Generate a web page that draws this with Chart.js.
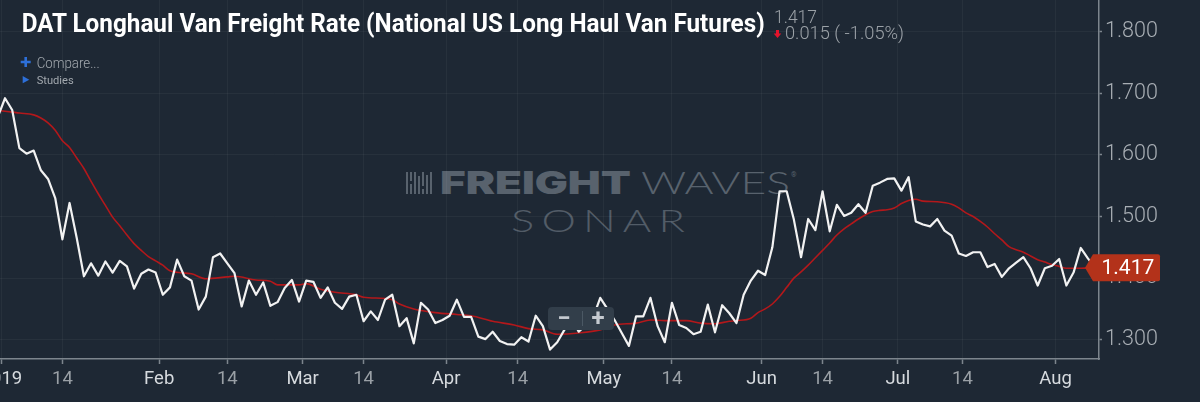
<!DOCTYPE html>
<html>
<head>
<meta charset="utf-8">
<title>DAT Longhaul Van Freight Rate</title>
<script src="https://cdn.jsdelivr.net/npm/chart.js@4.4.1/dist/chart.umd.min.js"></script>
<style>
  html, body { margin: 0; padding: 0; background: #1e2834; }
  #wrap { position: relative; width: 1200px; height: 402px; overflow: hidden; background: #1e2834; }
  #wrap svg, #wrap canvas { position: absolute; left: 0; top: 0; }
  svg text { font-family: Roboto, "Noto Sans", sans-serif; }
</style>
</head>
<body>
<div id="wrap">
  <!-- watermark sits under the lines -->
  <svg id="under" width="1200" height="402">
    <g fill="#58626d">
      <rect x="406" y="172" width="2" height="22"/>
      <rect x="410" y="172" width="2" height="9"/>
      <rect x="410" y="184" width="2" height="10"/>
      <rect x="414" y="172" width="2" height="22"/>
      <rect x="418" y="176" width="2" height="18"/>
      <rect x="422" y="172" width="2" height="14"/>
      <rect x="422" y="189" width="2" height="5"/>
      <rect x="426" y="175" width="2" height="19"/>
      <rect x="430" y="172" width="2" height="22"/>
      <text x="440" y="194.3" font-size="31" font-weight="900" style="font-family: Inter, 'DejaVu Sans', sans-serif" textLength="191" lengthAdjust="spacingAndGlyphs">FREIGHT</text>
      <text x="641" y="194.3" font-size="31" font-weight="300" style="font-family: Lato, Inter, sans-serif" textLength="149" lengthAdjust="spacingAndGlyphs">WAVES</text>
      <text x="791" y="177" font-size="7">®</text>
      <text x="511" y="231.7" font-size="30.5" font-weight="300" style="font-family: Lato, Inter, sans-serif; letter-spacing: 5px" fill="#525c67" textLength="181" lengthAdjust="spacingAndGlyphs">SONAR</text>
    </g>
  </svg>
  <canvas id="rateChart" width="1200" height="402"></canvas>
  <svg id="over" width="1200" height="402">
    <text x="21.7" y="31.7" font-size="25" font-weight="700" fill="#ffffff" textLength="743" lengthAdjust="spacingAndGlyphs">DAT Longhaul Van Freight Rate (National US Long Haul Van Futures)</text>
    <text id="lastQuote" x="774" y="22.7" font-size="18.8" font-weight="300" fill="#9ba1a7" textLength="43" lengthAdjust="spacingAndGlyphs"></text>
    <polygon points="776,30 779,30 779,33.5 781.3,33.5 777.5,38 773.7,33.5 776,33.5" fill="#e3132b"/>
    <text id="change" x="785" y="39.3" font-size="18" font-weight="300" fill="#9ba1a7" textLength="119" lengthAdjust="spacingAndGlyphs"></text>
    <path d="M20.7 62h10M25.7 57v10" stroke="#2d6fd8" stroke-width="2.6"/>
    <text x="36.7" y="68.3" font-size="14" font-weight="300" fill="#a3a9af" textLength="63" lengthAdjust="spacingAndGlyphs">Compare...</text>
    <polygon points="22.7,76 29.3,79.7 22.7,83.3" fill="#2d6fd8"/>
    <text x="36.7" y="84" font-size="11.3" fill="#a3a9af" textLength="37" lengthAdjust="spacingAndGlyphs">Studies</text>
    <rect x="548" y="307" width="66" height="23" rx="4" fill="#323e4a"/>
    <line x1="582.5" y1="311" x2="582.5" y2="326" stroke="#4b5864"/>
    <text x="564" y="326.3" text-anchor="middle" font-size="24" font-weight="700" fill="#c5cad0">−</text>
    <text x="598" y="326.3" text-anchor="middle" font-size="24" font-weight="700" fill="#c5cad0">+</text>
  </svg>
</div>
<script>
// daily settles; day 0 is the first bar at the left edge
const firstDay = -1;
const rateValues = [
  1.662, 1.692, 1.673, 1.611, 1.602, 1.607, 1.575, 1.561, 1.530, 1.463,
  1.522, 1.465, 1.403, 1.424, 1.404, 1.427, 1.409, 1.428, 1.419, 1.383,
  1.407, 1.414, 1.409, 1.373, 1.385, 1.430, 1.403, 1.396, 1.349, 1.370,
  1.434, 1.440, 1.424, 1.408, 1.354, 1.396, 1.373, 1.393, 1.355, 1.361,
  1.384, 1.397, 1.362, 1.396, 1.394, 1.368, 1.385, 1.360, 1.350, 1.370,
  1.373, 1.330, 1.346, 1.332, 1.365, 1.373, 1.322, 1.335, 1.294, 1.360,
  1.349, 1.327, 1.332, 1.339, 1.365, 1.337, 1.337, 1.305, 1.301, 1.313,
  1.298, 1.293, 1.292, 1.304, 1.297, 1.339, 1.322, 1.284, 1.296, 1.316,
  1.336, 1.313, 1.324, 1.336, 1.368, 1.350, 1.332, 1.311, 1.290, 1.338,
  1.338, 1.368, 1.322, 1.296, 1.360, 1.324, 1.319, 1.309, 1.313, 1.357,
  1.312, 1.356, 1.343, 1.327, 1.373, 1.396, 1.412, 1.405, 1.450, 1.541,
  1.541, 1.495, 1.434, 1.496, 1.478, 1.541, 1.476, 1.519, 1.501, 1.506,
  1.520, 1.506, 1.550, 1.555, 1.561, 1.562, 1.542, 1.564, 1.492, 1.487,
  1.484, 1.496, 1.477, 1.469, 1.440, 1.436, 1.442, 1.442, 1.418, 1.423,
  1.402, 1.416, 1.425, 1.434, 1.416, 1.388, 1.416, 1.420, 1.431, 1.388,
  1.409, 1.449, 1.432, 1.417
];

// moving average (red), read at these days
const avgDays = [
  -1, 0, 2, 4, 5, 6, 7, 8, 9, 10, 11, 12, 13, 14, 15, 16, 17, 18, 19, 20,
  21, 22, 23, 26, 28, 31, 32, 35, 37, 38, 41, 42, 44, 46, 49, 50, 54, 55, 57, 60,
  63, 65, 68, 71, 73, 75, 77, 80, 83, 85, 88, 90, 92, 95, 97, 99, 101, 102, 104, 105,
  106, 107, 108, 109, 110, 111, 112, 113, 114, 115, 116, 117, 118, 119, 120, 121, 122, 123, 124, 125,
  126, 127, 128, 130, 132, 133, 134, 135, 136, 137, 138, 139, 140, 141, 142, 143, 144, 145, 146, 147,
  148, 150, 152
];
const avgValues = [
  1.672, 1.671, 1.668, 1.665, 1.660, 1.652, 1.640, 1.623, 1.612, 1.595, 1.578, 1.557, 1.537, 1.518, 1.499, 1.485, 1.470, 1.456, 1.445, 1.435,
  1.428, 1.421, 1.412, 1.407, 1.399, 1.402, 1.403, 1.397, 1.395, 1.389, 1.389, 1.391, 1.382, 1.377, 1.373, 1.369, 1.365, 1.358, 1.350, 1.344,
  1.341, 1.339, 1.330, 1.324, 1.318, 1.316, 1.309, 1.311, 1.316, 1.324, 1.327, 1.332, 1.331, 1.331, 1.327, 1.326, 1.330, 1.331, 1.335, 1.344,
  1.350, 1.358, 1.370, 1.385, 1.400, 1.410, 1.421, 1.433, 1.445, 1.457, 1.470, 1.480, 1.488, 1.496, 1.503, 1.508, 1.510, 1.511, 1.514, 1.521,
  1.526, 1.528, 1.525, 1.524, 1.520, 1.514, 1.506, 1.500, 1.492, 1.483, 1.472, 1.462, 1.451, 1.446, 1.442, 1.436, 1.430, 1.426, 1.422, 1.419,
  1.416, 1.416, 1.417
];

const xTickDays = [-0.5, 8, 21.5, 31, 41.5, 50, 61.5, 71.5, 83.5, 93, 105.5, 114, 124.5, 133.5, 146.5];
const xTickLabels = ['2019', '14', 'Feb', '14', 'Mar', '14', 'Apr', '14', 'May', '14', 'Jun', '14', 'Jul', '14', 'Aug'];
const yTickValues = [1.3, 1.4, 1.5, 1.6, 1.7, 1.8];

const lastValue = rateValues[rateValues.length - 1];
const prevValue = rateValues[rateValues.length - 2];
const diff = lastValue - prevValue;
document.getElementById('lastQuote').textContent = lastValue.toFixed(3);
document.getElementById('change').textContent =
  Math.abs(diff).toFixed(3) + ' ( ' + (diff / prevValue * 100).toFixed(2) + '%)';

const ratePoints = rateValues.map((v, k) => ({ x: firstDay + k, y: v }));
const avgPoints = avgDays.map((d, k) => ({ x: d, y: avgValues[k] }));

const axisGray = '#7d858d';
const gridColor = 'rgba(255,255,255,0.045)';

// red price flag on the right axis
const lastValueBadge = {
  id: 'lastValueBadge',
  afterDraw(chart) {
    const { ctx, chartArea } = chart;
    const y = chart.scales.y.getPixelForValue(lastValue);
    const tip = chartArea.right - 14;
    const left = chartArea.right - 6;
    const right = chartArea.right + 61;
    const h = 13.5;
    ctx.save();
    ctx.fillStyle = '#b3321a';
    ctx.beginPath();
    ctx.moveTo(tip, y);
    ctx.lineTo(left, y - h);
    ctx.lineTo(right - 2, y - h);
    ctx.quadraticCurveTo(right, y - h, right, y - h + 2);
    ctx.lineTo(right, y + h - 2);
    ctx.quadraticCurveTo(right, y + h, right - 2, y + h);
    ctx.lineTo(left, y + h);
    ctx.closePath();
    ctx.fill();
    ctx.fillStyle = '#ffffff';
    ctx.font = '21px Roboto';
    ctx.textAlign = 'left';
    ctx.textBaseline = 'middle';
    ctx.fillText(lastValue.toFixed(3), chartArea.right + 2.5, y + 1);
    ctx.restore();
  }
};

new Chart(document.getElementById('rateChart'), {
  type: 'line',
  data: {
    datasets: [
      {
        label: 'DAT Longhaul Van Freight Rate',
        data: ratePoints,
        borderColor: '#f2f2f2',
        borderWidth: 2.2,
        borderJoinStyle: 'round',
        pointRadius: 0,
        tension: 0
      },
      {
        label: 'Moving average',
        data: avgPoints,
        borderColor: '#b3181b',
        borderWidth: 1.6,
        pointRadius: 0,
        cubicInterpolationMode: 'monotone'
      }
    ]
  },
  options: {
    responsive: false,
    animation: false,
    events: [],
    layout: { padding: 0 },
    plugins: {
      legend: { display: false },
      tooltip: { enabled: false },
      title: { display: false }
    },
    scales: {
      x: {
        type: 'linear',
        min: -0.7,
        max: 152.55,
        afterBuildTicks: scale => { scale.ticks = xTickDays.map(v => ({ value: v })); },
        afterFit: scale => { scale.height = 43; scale.paddingLeft = 0; scale.paddingRight = 0; },
        grid: { color: gridColor, tickColor: axisGray, tickLength: 5, tickWidth: 1.5 },
        border: { display: true, color: axisGray, width: 1.5 },
        ticks: {
          autoSkip: false,
          maxRotation: 0,
          padding: 4,
          font: { family: 'Roboto', size: 18.5 },
          color: c => (xTickLabels[c.index] === '14' ? '#9aa0a6' : '#d6dade'),
          callback: (v, i) => xTickLabels[i]
        }
      },
      y: {
        position: 'right',
        min: 1.2687,
        max: 1.8515,
        afterBuildTicks: scale => { scale.ticks = yTickValues.map(v => ({ value: v })); },
        afterFit: scale => { scale.width = 101; scale.paddingTop = 0; scale.paddingBottom = 0; },
        grid: { color: gridColor, tickColor: axisGray, tickLength: 3, tickWidth: 1.5 },
        border: { display: true, color: axisGray, width: 1.5 },
        ticks: {
          padding: 3,
          font: { family: 'Roboto', size: 21.5, weight: '300' },
          color: '#a8aeb4',
          callback: v => v.toFixed(3)
        }
      }
    }
  },
  plugins: [lastValueBadge]
});
</script>
</body>
</html>
